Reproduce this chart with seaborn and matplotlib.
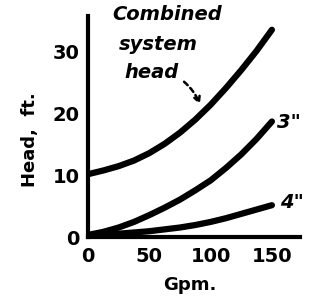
import numpy as np
import pandas as pd
import matplotlib
matplotlib.use("Agg")
import matplotlib.pyplot as plt
import seaborn as sns

# values
gpm = [0, 12.5, 25, 37.5, 50, 62.5, 75, 87.5, 100, 112.5, 125, 137.5, 150]
combined_head = [10.2, 10.8, 11.5, 12.4, 13.6, 15.1, 16.9, 19.0, 21.4, 24.1, 27.0, 30.1, 33.5]
pipe_3in = [0.4, 0.9, 1.6, 2.5, 3.6, 4.8, 6.1, 7.6, 9.2, 11.2, 13.4, 15.9, 18.7]
pipe_4in = [0.2, 0.4, 0.6, 0.8, 1.0, 1.3, 1.6, 2.0, 2.5, 3.1, 3.8, 4.5, 5.2]

x_ticks = [0, 50, 100, 150]
y_ticks = [0, 10, 20, 30]

n = len(gpm)
df = pd.DataFrame({
    "gpm": gpm * 3,
    "head": combined_head + pipe_3in + pipe_4in,
    "curve": ["combined"] * n + ["3in"] * n + ["4in"] * n,
})

sns.set_style("white", {"text.color": "black", "axes.labelcolor": "black",
                        "xtick.color": "black", "ytick.color": "black"})
plt.rcParams["font.family"] = ["DejaVu Sans"]

fig = plt.figure(figsize=(3.11, 3.04), dpi=100)
ax = fig.add_axes([0.283, 0.219, 0.682, 0.730])

for name in ["combined", "3in", "4in"]:
    sub = df[df["curve"] == name]
    sns.lineplot(data=sub, x="gpm", y="head", ax=ax, color="black", lw=4.5,
                 solid_capstyle="round", legend=False)

ax.set_xlim(0, 173)
ax.set_ylim(0, 35.8)
ax.set_xticks(x_ticks)
ax.set_yticks(y_ticks)
ax.set_xticklabels([str(v) for v in x_ticks], fontsize=14, fontweight="bold")
ax.set_yticklabels([str(v) for v in y_ticks], fontsize=14, fontweight="bold")
ax.tick_params(axis="both", direction="in", length=11, width=1.5, colors="black")
ax.tick_params(axis="x", pad=7)
ax.tick_params(axis="y", pad=6)

for side in ["top", "right"]:
    ax.spines[side].set_visible(False)
for side in ["left", "bottom"]:
    ax.spines[side].set_linewidth(3)
    ax.spines[side].set_color("black")

ax.set_xlabel("Gpm.", fontsize=13, fontweight="bold", va="center")
ax.set_ylabel("Head,  ft.", fontsize=13, fontweight="bold", va="center")
ax.xaxis.set_label_coords(0.48, -0.214)
ax.yaxis.set_label_coords(-0.274, 0.44)

# annotations
txt = dict(fontsize=14, style="italic", fontweight="bold", ha="center",
           va="center", clip_on=False, color="black")
ax.text(64.4, 35.9, "Combined", **txt)
ax.text(57, 31.2, "system", **txt)
ax.text(52.2, 26.6, "head", **txt)
ax.annotate("", xy=(92, 21.0), xytext=(76.6, 25.4),
            arrowprops=dict(arrowstyle="->", color="black", lw=1.8,
                            linestyle=(0, (2, 1.5)),
                            connectionstyle="arc3,rad=-0.15"))
ax.text(154, 18.6, '3"', fontsize=14, style="italic", fontweight="bold",
        ha="left", va="center", clip_on=False)
ax.text(156.5, 5.6, '4"', fontsize=14, style="italic", fontweight="bold",
        ha="left", va="center", clip_on=False)

fig.savefig("out.png", dpi=100, facecolor="white")
